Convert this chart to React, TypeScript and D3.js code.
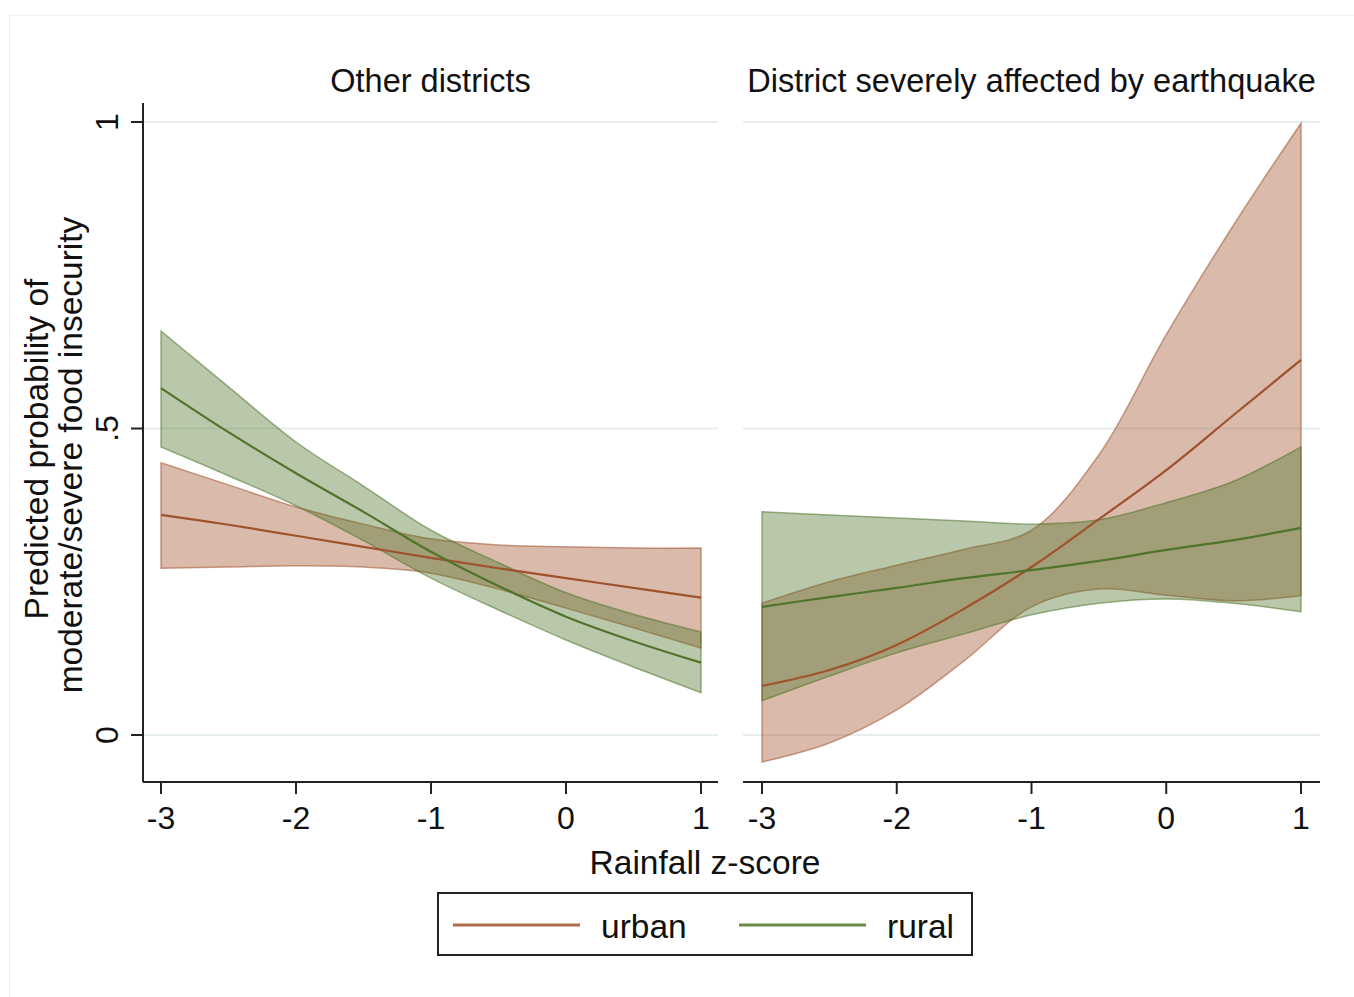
import * as d3 from 'd3';

// rainfall z-score grid, same for every series
const zGrid = [-3, -2.5, -2, -1.5, -1, -0.5, 0, 0.5, 1];

// Other districts
const otherUrbanMean = [0.359, 0.343, 0.325, 0.307, 0.289, 0.272, 0.256, 0.24, 0.224];
const otherUrbanHi = [0.444, 0.408, 0.372, 0.344, 0.32, 0.31, 0.307, 0.305, 0.305];
const otherUrbanLo = [0.272, 0.274, 0.276, 0.274, 0.264, 0.238, 0.207, 0.175, 0.142];
const otherRuralMean = [0.566, 0.494, 0.427, 0.364, 0.299, 0.243, 0.193, 0.153, 0.118];
const otherRuralHi = [0.659, 0.568, 0.478, 0.406, 0.334, 0.281, 0.232, 0.197, 0.168];
const otherRuralLo = [0.47, 0.423, 0.374, 0.317, 0.256, 0.204, 0.155, 0.111, 0.069];

// District severely affected by earthquake
const quakeUrbanMean = [0.08, 0.106, 0.147, 0.206, 0.274, 0.352, 0.432, 0.522, 0.612];
const quakeUrbanHi = [0.215, 0.25, 0.277, 0.303, 0.334, 0.457, 0.653, 0.832, 0.998];
const quakeUrbanLo = [-0.044, -0.013, 0.041, 0.121, 0.209, 0.238, 0.228, 0.219, 0.227];
const quakeRuralMean = [0.209, 0.225, 0.24, 0.256, 0.269, 0.284, 0.302, 0.318, 0.338];
const quakeRuralHi = [0.364, 0.359, 0.354, 0.349, 0.344, 0.351, 0.379, 0.414, 0.47];
const quakeRuralLo = [0.056, 0.096, 0.134, 0.165, 0.196, 0.215, 0.222, 0.215, 0.201];

const panelTitles = ['Other districts', 'District severely affected by earthquake'];
const xTicks = [-3, -2, -1, 0, 1];
const yTicks = [0, 0.5, 1];
const yTickLabels = ['0', '.5', '1'];
const legendLabels = ['urban', 'rural'];

const URBAN = '#a0522d';
const RURAL = '#50752a';
const FONT = 'Arial, "Liberation Sans", sans-serif';

type Band = { mean: number[]; lo: number[]; hi: number[]; color: string };

const panels = [
  {
    title: panelTitles[0],
    left: 143,
    right: 718,
    x0: 161,
    x1: 701,
    yAxis: true,
    bands: [
      { mean: otherUrbanMean, lo: otherUrbanLo, hi: otherUrbanHi, color: URBAN },
      { mean: otherRuralMean, lo: otherRuralLo, hi: otherRuralHi, color: RURAL },
    ] as Band[],
  },
  {
    title: panelTitles[1],
    left: 743,
    right: 1320,
    x0: 762,
    x1: 1301,
    yAxis: false,
    bands: [
      { mean: quakeUrbanMean, lo: quakeUrbanLo, hi: quakeUrbanHi, color: URBAN },
      { mean: quakeRuralMean, lo: quakeRuralLo, hi: quakeRuralHi, color: RURAL },
    ] as Band[],
  },
];

const y = d3.scaleLinear().domain([0, 1]).range([735, 122]);
const plotTop = 103;
const plotBottom = 782;

function Panel({ p }: { p: (typeof panels)[number] }) {
  const x = d3.scaleLinear().domain([-3, 1]).range([p.x0, p.x1]);
  const curve = d3.curveCatmullRom.alpha(0.5);
  const area = d3
    .area<number>()
    .x((_, i) => x(zGrid[i]))
    .curve(curve);
  const line = d3
    .line<number>()
    .x((_, i) => x(zGrid[i]))
    .y((d) => y(d))
    .curve(curve);

  return (
    <g>
      {yTicks.map((t) => (
        <line key={t} x1={p.left} x2={p.right} y1={y(t)} y2={y(t)} stroke="#e6eef0" strokeWidth={2} />
      ))}
      {p.bands.map((b, i) => (
        <path
          key={'b' + i}
          d={
            area
              .y0((_, j) => y(b.lo[j]))
              .y1((d) => y(d))(b.hi) ?? ''
          }
          fill={b.color}
          fillOpacity={0.4}
          stroke={b.color}
          strokeOpacity={0.55}
          strokeWidth={1.5}
        />
      ))}
      {p.bands.map((b, i) => (
        <path key={'l' + i} d={line(b.mean) ?? ''} fill="none" stroke={b.color} strokeWidth={2.2} />
      ))}
      <text
        x={(p.left + p.right) / 2}
        y={92}
        textAnchor="middle"
        fontSize={32.5}
        fontFamily={FONT}
        fill="#111"
      >
        {p.title}
      </text>
      <line x1={p.left} x2={p.right} y1={plotBottom} y2={plotBottom} stroke="#222" strokeWidth={2} />
      {xTicks.map((t) => (
        <g key={t}>
          <line x1={x(t)} x2={x(t)} y1={plotBottom} y2={plotBottom + 12} stroke="#222" strokeWidth={2} />
          <text x={x(t)} y={829} textAnchor="middle" fontSize={32} fontFamily={FONT} fill="#111">
            {t}
          </text>
        </g>
      ))}
      {p.yAxis && (
        <g>
          <line x1={p.left} x2={p.left} y1={plotTop} y2={plotBottom} stroke="#222" strokeWidth={2} />
          {yTicks.map((t, i) => (
            <g key={t}>
              <line x1={p.left - 12} x2={p.left} y1={y(t)} y2={y(t)} stroke="#222" strokeWidth={2} />
              <text
                transform={`translate(118,${y(t)}) rotate(-90)`}
                textAnchor="middle"
                fontSize={32}
                fontFamily={FONT}
                fill="#111"
              >
                {yTickLabels[i]}
              </text>
            </g>
          ))}
        </g>
      )}
    </g>
  );
}

export default function App() {
  return (
    <svg
      width={1354}
      height={997}
      style={{ position: 'absolute', left: 0, top: 0, background: '#fff' }}
    >
      <rect x={9.5} y={15.5} width={1350} height={990} fill="none" stroke="#f0f0f0" />
      {panels.map((p) => (
        <Panel key={p.title} p={p} />
      ))}
      <text
        transform="translate(48,449) rotate(-90)"
        textAnchor="middle"
        fontSize={33.5}
        fontFamily={FONT}
        fill="#111"
      >
        Predicted probability of
      </text>
      <text
        transform="translate(82,455) rotate(-90)"
        textAnchor="middle"
        fontSize={33.5}
        fontFamily={FONT}
        fill="#111"
      >
        moderate/severe food insecurity
      </text>
      <text x={705} y={874} textAnchor="middle" fontSize={33.5} fontFamily={FONT} fill="#111">
        Rainfall z-score
      </text>
      <rect x={438} y={893} width={534} height={62} fill="#fff" stroke="#222" strokeWidth={2} />
      {legendLabels.map((lab, i) => {
        const lx = i === 0 ? 453 : 739;
        return (
          <g key={lab}>
            <line
              x1={lx}
              x2={lx + 127}
              y1={925}
              y2={925}
              stroke={i === 0 ? URBAN : RURAL}
              strokeWidth={3}
              strokeOpacity={0.85}
            />
            <text x={lx + 148} y={938} fontSize={33.5} fontFamily={FONT} fill="#111">
              {lab}
            </text>
          </g>
        );
      })}
    </svg>
  );
}
